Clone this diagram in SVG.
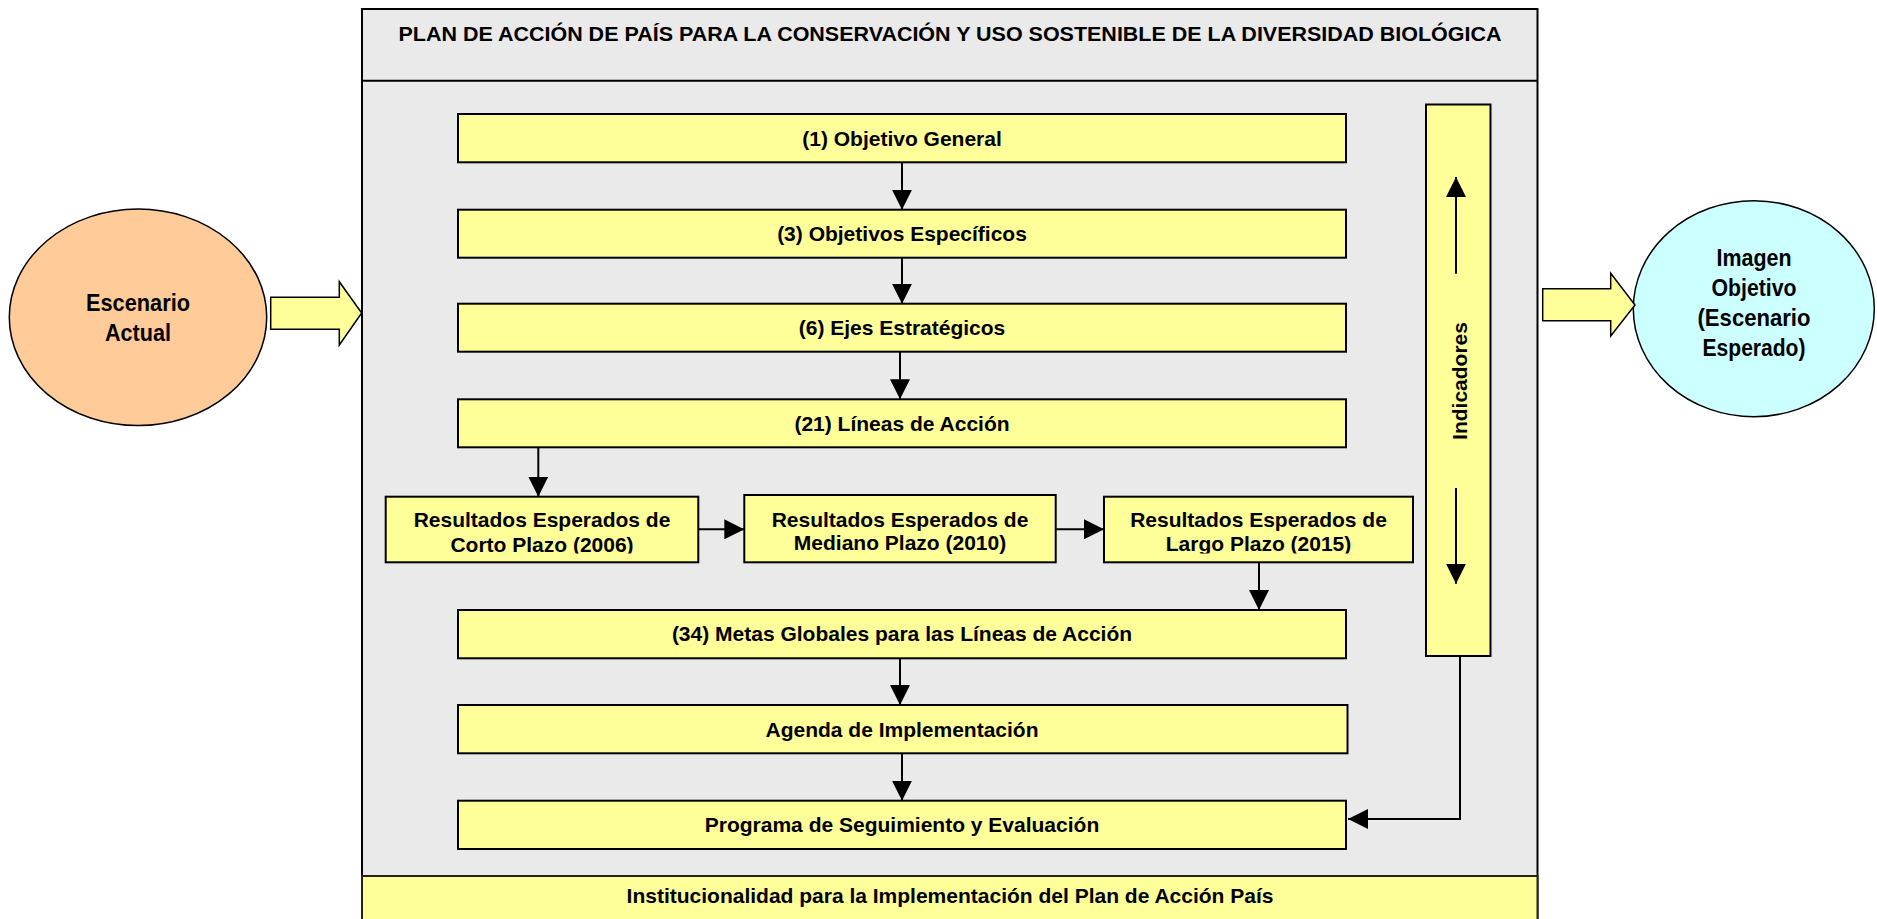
<svg xmlns="http://www.w3.org/2000/svg" width="1877" height="919" viewBox="0 0 1877 919">
<style>
  .box { fill: #FFFF99; stroke: #000; stroke-width: 2; }
  .t { font-family: "Liberation Sans", Arial, sans-serif; font-weight: bold; font-size: 21px; fill: #000; text-anchor: middle; }
  .te { font-family: "Liberation Sans", Arial, sans-serif; font-weight: bold; font-size: 24px; fill: #000; text-anchor: middle; }
  .conn { fill: none; stroke: #000; stroke-width: 2; }
  .block { fill: #FFFF99; stroke: #000; stroke-width: 1.5; stroke-linejoin: miter; }
</style>
<defs>
  <marker id="ah" viewBox="0 0 10 10" refX="10" refY="5" markerUnits="userSpaceOnUse" markerWidth="20" markerHeight="20" orient="auto">
    <path d="M0,0 L10,5 L0,10 z" fill="#000"/>
  </marker>
  <clipPath id="clipRes"><rect x="0" y="0" width="1877" height="553.5"/></clipPath>
</defs>
<rect x="0" y="0" width="1877" height="919" fill="#fff"/>

<g id="plan-frame">
  <rect x="362" y="9" width="1175.5" height="930" fill="#EAEAEA" stroke="#000" stroke-width="2"/>
  <line x1="362" y1="80.7" x2="1537.5" y2="80.7" stroke="#000" stroke-width="2"/>
  <text class="t" x="950" y="40.7" textLength="1103" lengthAdjust="spacingAndGlyphs">PLAN DE ACCIÓN DE PAÍS PARA LA CONSERVACIÓN Y USO SOSTENIBLE DE LA DIVERSIDAD BIOLÓGICA</text>
</g>

<g id="institucionalidad">
  <rect x="362" y="876" width="1175.5" height="60" fill="#FFFF99" stroke="#222" stroke-width="2"/>
  <text class="t" x="950" y="903">Institucionalidad para la Implementación del Plan de Acción País</text>
</g>

<g id="escenario-actual">
  <ellipse cx="138" cy="317.3" rx="128.7" ry="108.3" fill="#FFCC99" stroke="#000" stroke-width="1.5"/>
  <text class="te" x="138" y="310.7" textLength="104" lengthAdjust="spacingAndGlyphs">Escenario</text>
  <text class="te" x="138" y="340.7" textLength="66" lengthAdjust="spacingAndGlyphs">Actual</text>
</g>

<g id="imagen-objetivo">
  <ellipse cx="1753.8" cy="308.7" rx="120.5" ry="108" fill="#CCFFFF" stroke="#000" stroke-width="1.5"/>
  <text class="te" x="1754" y="266" textLength="75" lengthAdjust="spacingAndGlyphs">Imagen</text>
  <text class="te" x="1754" y="296" textLength="85" lengthAdjust="spacingAndGlyphs">Objetivo</text>
  <text class="te" x="1754" y="326" textLength="113" lengthAdjust="spacingAndGlyphs">(Escenario</text>
  <text class="te" x="1754" y="356" textLength="103" lengthAdjust="spacingAndGlyphs">Esperado)</text>
</g>

<g id="objetivo-general">
  <rect class="box" x="458" y="114" width="888" height="48.3"/>
  <text class="t" x="902" y="145.7">(1) Objetivo General</text>
</g>
<g id="objetivos-especificos">
  <rect class="box" x="458" y="209.7" width="888" height="48"/>
  <text class="t" x="902" y="241.2">(3) Objetivos Específicos</text>
</g>
<g id="ejes-estrategicos">
  <rect class="box" x="458" y="303.7" width="888" height="48"/>
  <text class="t" x="902" y="335.2">(6) Ejes Estratégicos</text>
</g>
<g id="lineas-accion">
  <rect class="box" x="458" y="399.3" width="888" height="48"/>
  <text class="t" x="902" y="430.8">(21) Líneas de Acción</text>
</g>

<g id="resultados-corto">
  <rect class="box" x="385.7" y="496.7" width="312.6" height="65.6"/>
  <g clip-path="url(#clipRes)">
    <text class="t" x="542" y="526.7">Resultados Esperados de</text>
    <text class="t" x="542" y="551.7">Corto Plazo (2006)</text>
  </g>
</g>
<g id="resultados-mediano">
  <rect class="box" x="744.3" y="495" width="311.4" height="67.3"/>
  <text class="t" x="900" y="526.7">Resultados Esperados de</text>
  <text class="t" x="900" y="549.5">Mediano Plazo (2010)</text>
</g>
<g id="resultados-largo">
  <rect class="box" x="1104" y="496.7" width="309" height="65.6"/>
  <g clip-path="url(#clipRes)">
    <text class="t" x="1258.5" y="526.7">Resultados Esperados de</text>
    <text class="t" x="1258.5" y="551">Largo Plazo (2015)</text>
  </g>
</g>

<g id="metas-globales">
  <rect class="box" x="458" y="610" width="888" height="48.3"/>
  <text class="t" x="902" y="641">(34) Metas Globales para las Líneas de Acción</text>
</g>
<g id="agenda-implementacion">
  <rect class="box" x="458" y="705" width="889.5" height="48.3"/>
  <text class="t" x="902" y="736.7">Agenda de Implementación</text>
</g>
<g id="programa-seguimiento">
  <rect class="box" x="458" y="800.7" width="888" height="48.3"/>
  <text class="t" x="902" y="831.7">Programa de Seguimiento y Evaluación</text>
</g>

<g id="indicadores">
  <rect class="box" x="1426" y="104.5" width="64.5" height="551.5"/>
  <text class="t" transform="translate(1466.5,381) rotate(-90)" x="0" y="0">Indicadores</text>
  <line class="conn" x1="1456" y1="273.7" x2="1456" y2="177" marker-end="url(#ah)"/>
  <line class="conn" x1="1456" y1="488" x2="1456" y2="583.7" marker-end="url(#ah)"/>
</g>

<g id="block-arrows">
  <polygon class="block" points="270.7,297.3 339.3,297.3 339.3,281.7 361.7,313 339.3,345 339.3,329.3 270.7,329.3"/>
  <polygon class="block" points="1542.7,288.7 1610.7,288.7 1610.7,273.3 1635,305 1610.7,336 1610.7,320.7 1542.7,320.7"/>
</g>

<g id="connectors">
  <line class="conn" x1="902" y1="162.3" x2="902" y2="209.7" marker-end="url(#ah)"/>
  <line class="conn" x1="902" y1="257.7" x2="902" y2="303.7" marker-end="url(#ah)"/>
  <line class="conn" x1="900" y1="351.7" x2="900" y2="399.3" marker-end="url(#ah)"/>
  <line class="conn" x1="538.3" y1="447.3" x2="538.3" y2="496.7" marker-end="url(#ah)"/>
  <line class="conn" x1="698.3" y1="529.3" x2="744.3" y2="529.3" marker-end="url(#ah)"/>
  <line class="conn" x1="1055.7" y1="529.3" x2="1104" y2="529.3" marker-end="url(#ah)"/>
  <line class="conn" x1="1259" y1="562.3" x2="1259" y2="610" marker-end="url(#ah)"/>
  <line class="conn" x1="900" y1="658.3" x2="900" y2="705" marker-end="url(#ah)"/>
  <line class="conn" x1="902" y1="753.3" x2="902" y2="800.7" marker-end="url(#ah)"/>
  <polyline class="conn" points="1460,656 1460,819 1348,819" marker-end="url(#ah)"/>
</g>
</svg>
